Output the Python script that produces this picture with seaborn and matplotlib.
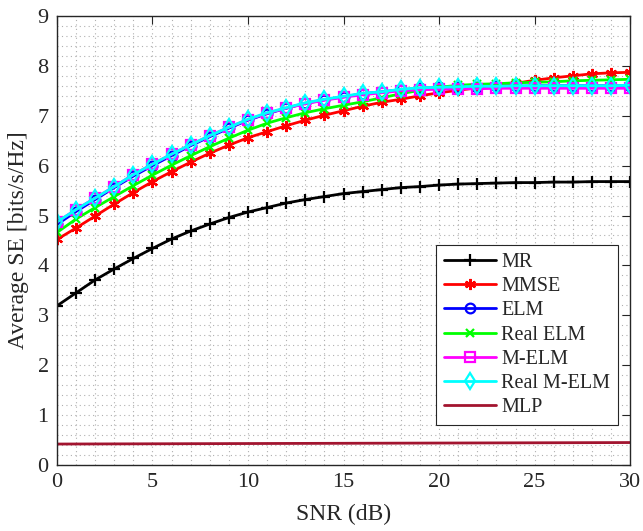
import numpy as np
import pandas as pd
import seaborn as sns
import matplotlib
matplotlib.use("Agg")
import matplotlib.pyplot as plt
from matplotlib.ticker import MultipleLocator

snr = list(range(0, 31))

mr = [3.19, 3.45, 3.71, 3.93, 4.14, 4.34, 4.53, 4.69, 4.83, 4.96, 5.07, 5.16, 5.25,
      5.32, 5.38, 5.44, 5.48, 5.52, 5.56, 5.58, 5.61, 5.63, 5.64, 5.65, 5.66, 5.66,
      5.67, 5.67, 5.68, 5.68, 5.68]
mmse = [4.52, 4.75, 4.99, 5.23, 5.46, 5.68, 5.88, 6.07, 6.25, 6.41, 6.56, 6.68, 6.80,
        6.91, 7.01, 7.10, 7.19, 7.27, 7.33, 7.40, 7.46, 7.51, 7.56, 7.60, 7.65, 7.71,
        7.76, 7.80, 7.84, 7.86, 7.87]
elm = [4.82, 5.08, 5.32, 5.56, 5.79, 6.00, 6.20, 6.40, 6.58, 6.75, 6.91, 7.04, 7.15,
       7.25, 7.32, 7.38, 7.44, 7.48, 7.52, 7.55, 7.57, 7.58, 7.58, 7.59, 7.59, 7.60,
       7.60, 7.60, 7.60, 7.60, 7.60]
real_elm = [4.66, 4.93, 5.16, 5.38, 5.60, 5.81, 6.01, 6.20, 6.38, 6.55, 6.71, 6.85,
            6.96, 7.06, 7.14, 7.21, 7.28, 7.36, 7.44, 7.51, 7.57, 7.61, 7.63, 7.64,
            7.66, 7.67, 7.68, 7.70, 7.71, 7.72, 7.73]
m_elm = [4.87, 5.12, 5.35, 5.58, 5.82, 6.03, 6.23, 6.42, 6.60, 6.77, 6.92, 7.05, 7.15,
         7.24, 7.31, 7.37, 7.42, 7.46, 7.50, 7.52, 7.53, 7.54, 7.54, 7.55, 7.55, 7.55,
         7.55, 7.55, 7.55, 7.55, 7.55]
real_m_elm = [4.87, 5.12, 5.35, 5.58, 5.82, 6.03, 6.23, 6.42, 6.60, 6.77, 6.93, 7.06,
              7.16, 7.26, 7.33, 7.39, 7.45, 7.48, 7.53, 7.56, 7.57, 7.58, 7.59, 7.59,
              7.60, 7.60, 7.60, 7.60, 7.60, 7.60, 7.61]
mlp = [0.420, 0.421, 0.422, 0.423, 0.424, 0.425, 0.426, 0.427, 0.428, 0.429, 0.430,
       0.431, 0.432, 0.433, 0.434, 0.435, 0.436, 0.437, 0.438, 0.439, 0.440, 0.441,
       0.442, 0.443, 0.444, 0.445, 0.446, 0.447, 0.448, 0.449, 0.450]

series = [
    ("MR", mr, "black", "+", "full", 9),
    ("MMSE", mmse, "red", (6, 2, 0), "full", 8),
    ("ELM", elm, "blue", "o", "none", 7),
    ("Real ELM", real_elm, "#00ff00", "x", "full", 6),
    ("M-ELM", m_elm, "magenta", "s", "none", 6.5),
    ("Real M-ELM", real_m_elm, "cyan", "d", "none", 8),
    ("MLP", mlp, "#a2142f", None, "full", 0),
]

sns.set_theme(style="white")
plt.rcParams["font.family"] = ["Liberation Serif", "DejaVu Serif"]
plt.rcParams["mathtext.fontset"] = "stix"

fig = plt.figure(figsize=(6.43, 5.31), dpi=100)
ax = fig.add_axes([0.0886, 0.1243, 0.8914, 0.8457])

for name, vals, color, marker, fill, ms in series:
    df = pd.DataFrame({"SNR": snr, "SE": vals})
    kw = dict(marker=marker, markersize=ms, markeredgewidth=1.6,
              fillstyle=fill, markeredgecolor=color) if marker else {}
    sns.lineplot(data=df, x="SNR", y="SE", ax=ax, color=color, linewidth=2,
                 label=name, **kw)

ax.set_xlim(0, 30)
ax.set_ylim(0, 9)
ax.xaxis.set_major_locator(MultipleLocator(5))
ax.yaxis.set_major_locator(MultipleLocator(1))
ax.xaxis.set_minor_locator(MultipleLocator(1))
ax.yaxis.set_minor_locator(MultipleLocator(0.2))
ax.grid(True, which="both", linestyle=(0, (1, 3)), color="#b0b0b0", linewidth=0.8)
ax.tick_params(which="major", direction="in", length=6, width=0.8, top=True,
               right=True, labelsize=16, colors="#262626", pad=6)
ax.tick_params(which="minor", length=0, top=True, right=True)
for s in ax.spines.values():
    s.set_color("#262626")
    s.set_linewidth(1.0)

ax.set_xlabel("SNR (dB)", fontsize=17, color="#262626", labelpad=8)
ax.set_ylabel("Average SE [bits/s/Hz]", fontsize=17, color="#262626", labelpad=6)

leg = ax.legend(loc="lower right", bbox_to_anchor=(0.979, 0.089), fontsize=14.5,
                frameon=True, fancybox=False, framealpha=1, edgecolor="#262626",
                handlelength=2.6, labelspacing=0.25, borderpad=0.4,
                handletextpad=0.25, borderaxespad=0)
leg.get_frame().set_linewidth(0.8)

fig.savefig("out.png", dpi=100)
